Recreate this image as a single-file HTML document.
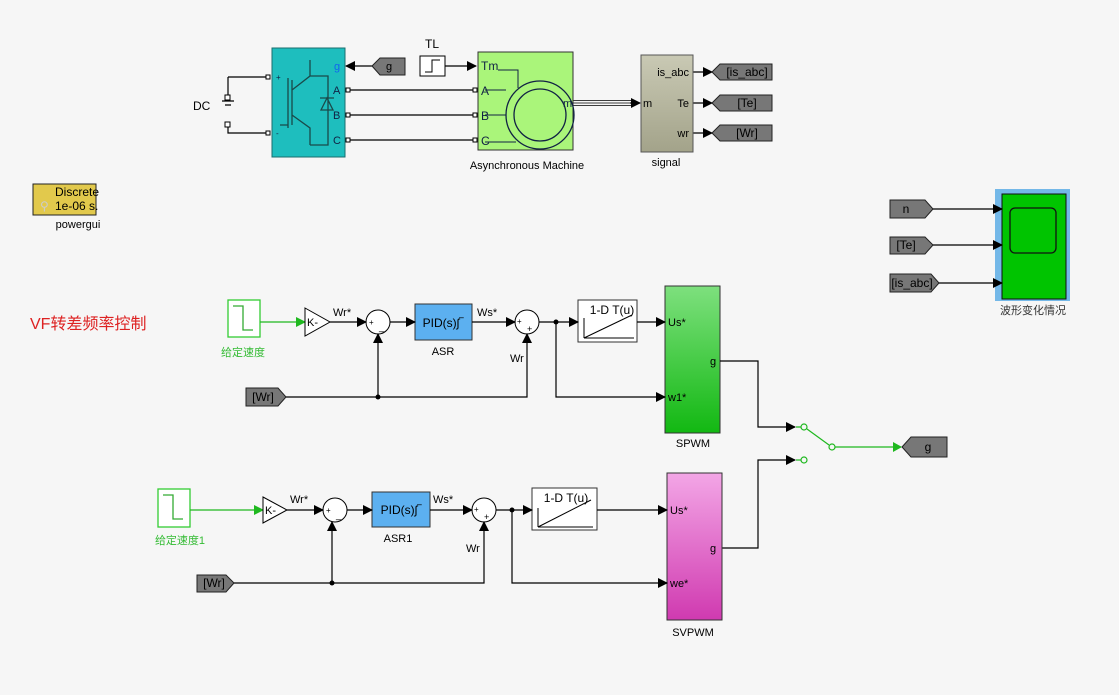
<!DOCTYPE html>
<html><head><meta charset="utf-8"><style>
html,body{margin:0;padding:0;background:#f6f6f6;}
svg{display:block;font-family:"Liberation Sans","Noto Sans CJK SC",sans-serif;}
</style></head><body>
<svg width="1119" height="695" viewBox="0 0 1119 695" xmlns="http://www.w3.org/2000/svg">
<defs>
<marker id="a" markerWidth="10" markerHeight="10" refX="9" refY="5" orient="auto" markerUnits="userSpaceOnUse"><path d="M0,0 L10,5 L0,10z" fill="#000"/></marker>
<marker id="g" markerWidth="10" markerHeight="10" refX="9" refY="5" orient="auto" markerUnits="userSpaceOnUse"><path d="M0,0 L10,5 L0,10z" fill="#1fb81f"/></marker>
<linearGradient id="sig" x1="0" y1="0" x2="0" y2="1"><stop offset="0" stop-color="#c9c9b4"/><stop offset="1" stop-color="#a3a38a"/></linearGradient>
<linearGradient id="sp" x1="0" y1="0" x2="0" y2="1"><stop offset="0" stop-color="#7ee07e"/><stop offset="1" stop-color="#12b812"/></linearGradient>
<linearGradient id="sv" x1="0" y1="0" x2="0" y2="1"><stop offset="0" stop-color="#f3a6e6"/><stop offset="1" stop-color="#d03ab0"/></linearGradient>
</defs>
<g fill="none" stroke="#000" stroke-width="1.2">
<path d="M228,77 H268 M228,77 V98 M228,127 V133 H268"/>
<path d="M222,101 H234 M225,105 H231"/>
</g>
<rect x="225" y="95" width="5" height="5" fill="#fff" stroke="#000"/>
<rect x="225" y="122" width="5" height="5" fill="#fff" stroke="#000"/>
<text x="193" y="110" font-size="12">DC</text>
<rect x="272" y="48" width="73" height="109" fill="#1ebebe" stroke="#1a6e6e"/>
<g stroke="#1a4a4a" stroke-width="1.3" fill="none"><path d="M288,78 V128 M292,80 V125 M292,90 L310,76 V60 M292,115 L310,128 V145 M280,125 H288 M310,76 H328 V145 H310 M320,98 H334 M321,110 H333 M327,98 L321,110 H333 z"/></g>
<text x="276" y="80" font-size="8" fill="#124">+</text>
<text x="276" y="136" font-size="8" fill="#124">-</text>
<text x="334" y="70" font-size="11" fill="#1166ee">g</text>
<text x="333" y="94" font-size="11" fill="#124">A</text>
<text x="333" y="119" font-size="11" fill="#124">B</text>
<text x="333" y="144" font-size="11" fill="#124">C</text>
<g fill="#fff" stroke="#000"><rect x="266" y="75" width="4" height="4"/><rect x="266" y="131" width="4" height="4"/><rect x="346" y="88" width="4" height="4"/><rect x="346" y="113" width="4" height="4"/><rect x="346" y="138" width="4" height="4"/><rect x="473" y="88" width="4" height="4"/><rect x="473" y="113" width="4" height="4"/><rect x="473" y="138" width="4" height="4"/></g>
<g stroke="#000" stroke-width="1.2" fill="none">
<path d="M350,90 H473 M350,115 H473 M350,140 H473"/>
<path d="M372,66 H346" marker-end="url(#a)"/>
<path d="M445,66 H476" marker-end="url(#a)"/>
<path d="M573,100.5 H632 M573,103 H632 M573,105.5 H632" stroke-width="0.8"/>
<path d="M630,103 H640" marker-end="url(#a)"/>
<path d="M693,72 H712" marker-end="url(#a)"/><path d="M693,103 H712" marker-end="url(#a)"/><path d="M693,133 H712" marker-end="url(#a)"/>
</g>
<path d="M372,66 L380,58 H405 V75 H380 z" fill="#777" stroke="#222"/>
<text x="389" y="70" font-size="11" text-anchor="middle">g</text>
<text x="432" y="48" font-size="12" text-anchor="middle">TL</text>
<rect x="420" y="56" width="25" height="20" fill="#fff" stroke="#000"/>
<path d="M425,72 H432 V60 H440" fill="none" stroke="#000"/>
<rect x="478" y="52" width="95" height="98" fill="#aaf57a" stroke="#333"/>
<circle cx="540" cy="115" r="34" fill="none" stroke="#124" stroke-width="1.3"/>
<circle cx="540" cy="115" r="26" fill="none" stroke="#124" stroke-width="1.3"/>
<path d="M498,70 H518 V88" fill="none" stroke="#124"/>
<path d="M485,90 H506 M485,115 H506 M485,142 H516" fill="none" stroke="#124"/>
<text x="481" y="70" font-size="12" fill="#124">Tm</text>
<text x="481" y="95" font-size="12" fill="#124">A</text>
<text x="481" y="120" font-size="12" fill="#124">B</text>
<text x="481" y="145" font-size="12" fill="#124">C</text>
<text x="563" y="107" font-size="11" fill="#124">m</text>
<text x="527" y="169" font-size="11" text-anchor="middle">Asynchronous Machine</text>
<rect x="641" y="55" width="52" height="97" fill="url(#sig)" stroke="#555"/>
<text x="643" y="107" font-size="11">m</text>
<text x="689" y="76" font-size="11" text-anchor="end">is_abc</text>
<text x="689" y="107" font-size="11" text-anchor="end">Te</text>
<text x="689" y="137" font-size="11" text-anchor="end">wr</text>
<text x="666" y="166" font-size="11" text-anchor="middle">signal</text>
<g fill="#777" stroke="#222"><path d="M712,72 L720,64 H772 V80 H720z"/><path d="M712,103 L720,95 H772 V111 H720z"/><path d="M712,133 L720,125 H772 V141 H720z"/></g>
<g font-size="12" text-anchor="middle"><text x="747" y="76">[is_abc]</text><text x="747" y="107">[Te]</text><text x="747" y="137">[Wr]</text></g>
<rect x="33" y="184" width="63" height="31" fill="#e2c94c" stroke="#222"/>
<text x="55" y="196" font-size="12">Discrete</text>
<text x="55" y="210" font-size="12">1e-06 s.</text>
<text x="40" y="210" font-size="12" fill="#ccc">⚲</text>
<text x="78" y="228" font-size="11" text-anchor="middle">powergui</text>
<text x="30" y="329" font-size="16" fill="#dd2222">VF转差频率控制</text>
<rect x="995" y="189" width="75" height="112" fill="#74b8e8"/>
<rect x="1002" y="194" width="64" height="105" fill="#00c400" stroke="#111"/>
<rect x="1010" y="208" width="46" height="45" rx="5" fill="none" stroke="#111" stroke-width="1.3"/>
<text x="1033" y="314" font-size="11" text-anchor="middle" fill="#333">波形变化情况</text>
<g fill="#777" stroke="#222"><path d="M890,200 H925 L933,209 L925,218 H890z"/><path d="M890,237 H925 L933,245 L925,254 H890z"/><path d="M890,274 H931 L939,283 L931,292 H890z"/></g>
<g font-size="12" text-anchor="middle"><text x="906" y="213">n</text><text x="906" y="249">[Te]</text><text x="912" y="287">[is_abc]</text></g>
<g stroke="#000" stroke-width="1.2" fill="none">
<path d="M933,209 H1002" marker-end="url(#a)"/><path d="M933,245 H1002" marker-end="url(#a)"/><path d="M939,283 H1002" marker-end="url(#a)"/>
</g>

<rect x="228" y="300" width="32" height="37" fill="#fff" stroke="#33cc33" stroke-width="1.3"/>
<path d="M233,306 H243 V330 H253" fill="none" stroke="#33aa33" stroke-width="1.3"/>
<text x="243" y="356" font-size="11" text-anchor="middle" fill="#33bb33">给定速度</text>
<path d="M260,322 H305" stroke="#1fb81f" stroke-width="1.2" fill="none" marker-end="url(#g)"/>
<path d="M305,308 L330,322 L305,336z" fill="#fff" stroke="#000"/>
<text x="307" y="326" font-size="11">K-</text>
<text x="333" y="316" font-size="11">Wr*</text>
<circle cx="378" cy="322" r="12" fill="#fff" stroke="#000"/>
<text x="369" y="325" font-size="8">+</text><text x="379" y="330" font-size="10">_</text>
<rect x="415" y="304" width="57" height="36" fill="#5cb0f0" stroke="#333"/>
<text x="443" y="327" font-size="12" text-anchor="middle">PID(s)ʃ‾</text>
<text x="443" y="355" font-size="11" text-anchor="middle">ASR</text>
<text x="477" y="316" font-size="11">Ws*</text>
<circle cx="527" cy="322" r="12" fill="#fff" stroke="#000"/>
<text x="517" y="324" font-size="8">+</text><text x="527" y="332" font-size="9">+</text>
<text x="510" y="362" font-size="11">Wr</text>
<rect x="578" y="300" width="59" height="42" fill="#fff" stroke="#333"/>
<text x="612" y="314" font-size="12" text-anchor="middle">1-D T(u)</text>
<path d="M584,338 L632,315 M584,338 H634 M584,318 V338" fill="none" stroke="#000"/>
<rect x="665" y="286" width="55" height="147" fill="url(#sp)" stroke="#333"/>
<text x="668" y="326" font-size="11">Us*</text>
<text x="668" y="401" font-size="11">w1*</text>
<text x="710" y="365" font-size="11">g</text>
<text x="693" y="447" font-size="11" text-anchor="middle">SPWM</text>
<path d="M246,388 H278 L286,397 L278,406 H246z" fill="#777" stroke="#222"/>
<text x="263" y="401" font-size="12" text-anchor="middle">[Wr]</text>
<g stroke="#000" stroke-width="1.2" fill="none">
<path d="M330,322 H366" marker-end="url(#a)"/>
<path d="M390,322 H415" marker-end="url(#a)"/>
<path d="M472,322 H515" marker-end="url(#a)"/>
<path d="M539,322 H578" marker-end="url(#a)"/>
<path d="M637,322 H665" marker-end="url(#a)"/>
<path d="M286,397 H527 V334" marker-end="url(#a)"/>
<path d="M378,397 V334" marker-end="url(#a)"/>
<path d="M556,322 V397 H665" marker-end="url(#a)"/>
<path d="M720,361 H758 V427 H795" marker-end="url(#a)"/>
<path d="M722,548 H758 V460 H795" marker-end="url(#a)"/>
</g>
<circle cx="378" cy="397" r="2.5"/><circle cx="556" cy="322" r="2.5"/>
<g stroke="#1fb81f" stroke-width="1.2" fill="none">
<circle cx="804" cy="427" r="3"/><circle cx="832" cy="447" r="3"/><circle cx="804" cy="460" r="3"/>
<path d="M796,427 H801 M807,429 L829,445 M835,447 H901" />
<path d="M796,460 H801"/>
</g>
<path d="M893,442 L902,447 L893,452z" fill="#1fb81f"/>
<path d="M902,447 L911,437 H947 V457 H911z" fill="#777" stroke="#222"/>
<text x="928" y="451" font-size="12" text-anchor="middle">g</text>

<rect x="158" y="489" width="32" height="38" fill="#fff" stroke="#33cc33" stroke-width="1.3"/>
<path d="M163,495 H173 V519 H183" fill="none" stroke="#33aa33" stroke-width="1.3"/>
<text x="180" y="544" font-size="11" text-anchor="middle" fill="#33bb33">给定速度1</text>
<path d="M190,510 H263" stroke="#1fb81f" stroke-width="1.2" fill="none" marker-end="url(#g)"/>
<path d="M263,497 L287,510 L263,523z" fill="#fff" stroke="#000"/>
<text x="265" y="514" font-size="11">K-</text>
<text x="290" y="503" font-size="11">Wr*</text>
<circle cx="335" cy="510" r="12" fill="#fff" stroke="#000"/>
<text x="326" y="513" font-size="8">+</text><text x="336" y="518" font-size="10">_</text>
<rect x="372" y="492" width="58" height="35" fill="#5cb0f0" stroke="#333"/>
<text x="401" y="514" font-size="12" text-anchor="middle">PID(s)ʃ‾</text>
<text x="398" y="542" font-size="11" text-anchor="middle">ASR1</text>
<text x="433" y="503" font-size="11">Ws*</text>
<circle cx="484" cy="510" r="12" fill="#fff" stroke="#000"/>
<text x="474" y="512" font-size="8">+</text><text x="484" y="520" font-size="9">+</text>
<text x="466" y="552" font-size="11">Wr</text>
<rect x="532" y="488" width="65" height="42" fill="#fff" stroke="#333"/>
<text x="566" y="502" font-size="12" text-anchor="middle">1-D T(u)</text>
<path d="M538,527 L591,500 M538,527 H593 M538,508 V527" fill="none" stroke="#000"/>
<rect x="667" y="473" width="55" height="147" fill="url(#sv)" stroke="#333"/>
<text x="670" y="514" font-size="11">Us*</text>
<text x="670" y="587" font-size="11">we*</text>
<text x="710" y="552" font-size="11">g</text>
<text x="693" y="636" font-size="11" text-anchor="middle">SVPWM</text>
<path d="M197,575 H226 L234,583 L226,592 H197z" fill="#777" stroke="#222"/>
<text x="214" y="587" font-size="12" text-anchor="middle">[Wr]</text>
<g stroke="#000" stroke-width="1.2" fill="none">
<path d="M287,510 H323" marker-end="url(#a)"/>
<path d="M347,510 H372" marker-end="url(#a)"/>
<path d="M430,510 H472" marker-end="url(#a)"/>
<path d="M496,510 H532" marker-end="url(#a)"/>
<path d="M597,510 H667" marker-end="url(#a)"/>
<path d="M234,583 H484 V522" marker-end="url(#a)"/>
<path d="M332,583 V522" marker-end="url(#a)"/>
<path d="M512,510 V583 H667" marker-end="url(#a)"/>
</g>
<circle cx="332" cy="583" r="2.5"/><circle cx="512" cy="510" r="2.5"/>
</svg>
</body></html>
